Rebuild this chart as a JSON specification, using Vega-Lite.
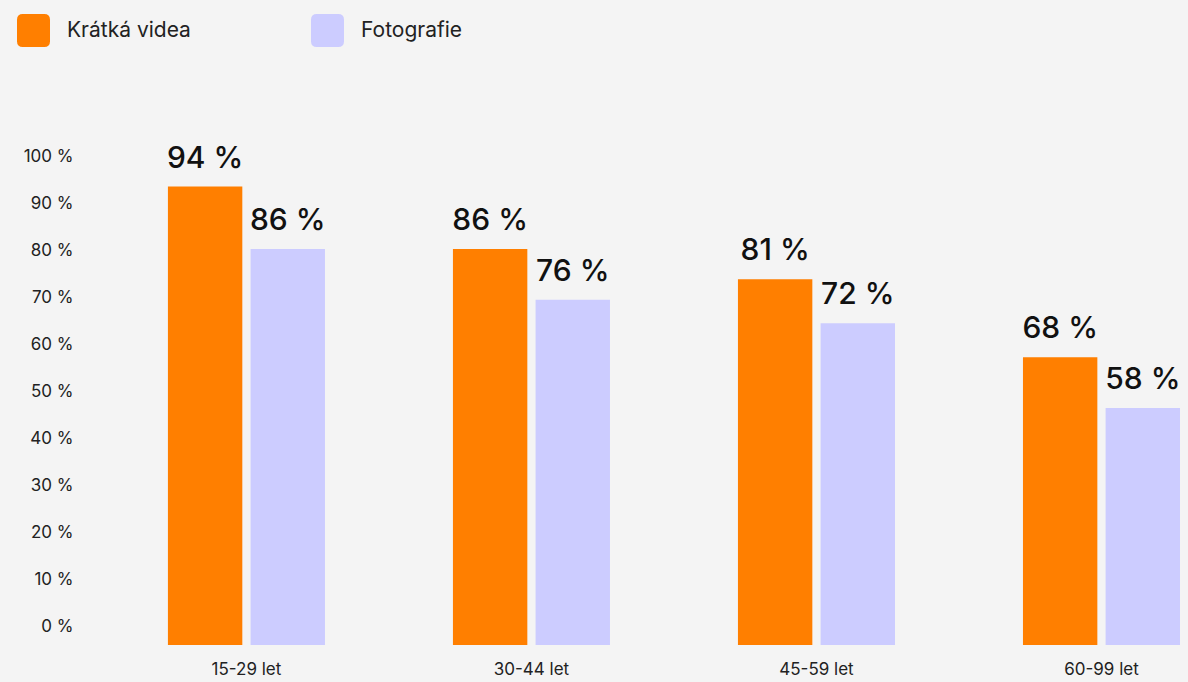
{
  "$schema": "https://vega.github.io/schema/vega-lite/v6.json",
  "width": 1105,
  "height": 489,
  "autosize": {"type": "none"},
  "padding": {"left": 83, "top": 156, "right": 0, "bottom": 37},
  "background": "#f4f4f4",
  "config": {"view": {"stroke": null}, "font": "Inter"},
  "data": {
    "values": [
      {"group": "15-29 let", "series": "Krátká videa", "pct": 94, "bar": 93.5},
      {"group": "15-29 let", "series": "Fotografie", "pct": 86, "bar": 80.2},
      {"group": "30-44 let", "series": "Krátká videa", "pct": 86, "bar": 80.2},
      {"group": "30-44 let", "series": "Fotografie", "pct": 76, "bar": 69.4},
      {"group": "45-59 let", "series": "Krátká videa", "pct": 81, "bar": 73.8},
      {"group": "45-59 let", "series": "Fotografie", "pct": 72, "bar": 64.4},
      {"group": "60-99 let", "series": "Krátká videa", "pct": 68, "bar": 57.2},
      {"group": "60-99 let", "series": "Fotografie", "pct": 58, "bar": 46.4}
    ]
  },
  "transform": [{"calculate": "datum.pct + ' %'", "as": "pct_label"}],
  "encoding": {
    "x": {
      "field": "group",
      "type": "nominal",
      "sort": ["15-29 let", "30-44 let", "45-59 let", "60-99 let"],
      "scale": {"paddingInner": 0.449, "paddingOuter": 0.163, "align": 0.914},
      "axis": {
        "title": null,
        "domain": false,
        "ticks": false,
        "labelAngle": 0,
        "labelPadding": 16,
        "labelFontSize": 17,
        "labelColor": "#222222"
      }
    },
    "xOffset": {
      "field": "series",
      "type": "nominal",
      "sort": ["Krátká videa", "Fotografie"],
      "scale": {"paddingInner": 0.1}
    },
    "y": {
      "field": "bar",
      "type": "quantitative",
      "scale": {"domain": [-4.04, 100], "nice": false, "zero": false},
      "axis": {
        "title": null,
        "domain": false,
        "ticks": false,
        "grid": false,
        "values": [0, 10, 20, 30, 40, 50, 60, 70, 80, 90, 100],
        "labelExpr": "datum.value + ' %'",
        "labelPadding": 10,
        "labelFontSize": 17,
        "labelColor": "#222222"
      }
    }
  },
  "layer": [
    {
      "mark": {"type": "bar"},
      "encoding": {
        "y2": {"datum": -4.04},
        "color": {
          "field": "series",
          "type": "nominal",
          "scale": {"domain": ["Krátká videa", "Fotografie"], "range": ["#ff7f00", "#ccccff"]},
          "legend": {
            "title": null,
            "orient": "none",
            "legendX": -66,
            "legendY": -142,
            "direction": "horizontal",
            "symbolType": "M-0.65,-1L0.65,-1Q1,-1 1,-0.65L1,0.65Q1,1 0.65,1L-0.65,1Q-1,1 -1,0.65L-1,-0.65Q-1,-1 -0.65,-1Z",
            "symbolSize": 1089,
            "symbolStrokeWidth": 0,
            "symbolOpacity": 1,
            "labelFontSize": 21,
            "labelColor": "#222222",
            "labelOffset": 17,
            "columnPadding": 120
          }
        }
      }
    },
    {
      "mark": {"type": "text", "dy": -19, "baseline": "alphabetic", "fontSize": 30, "fontWeight": 500, "color": "#111111"},
      "encoding": {"text": {"field": "pct_label"}}
    }
  ]
}
